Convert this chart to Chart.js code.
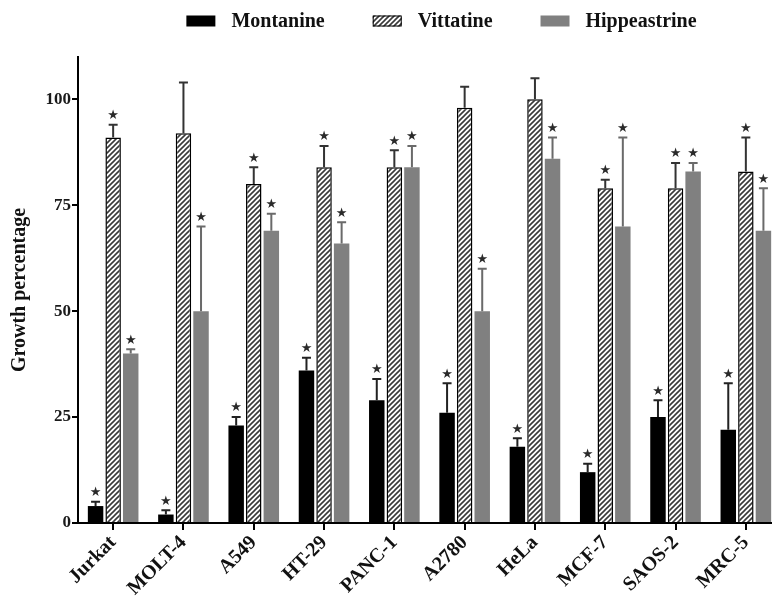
<!DOCTYPE html>
<html>
<head>
<meta charset="utf-8">
<script src="https://cdn.jsdelivr.net/npm/chart.js@4.4.0/dist/chart.umd.min.js"></script>
<style>
html, body { margin: 0; padding: 0; background: #fff; overflow: hidden; }
#wrap { width: 781px; height: 598px; }
</style>
</head>
<body>
<div id="wrap"><canvas id="chart"></canvas></div>
<script>
// cell lines on the x axis
const cellLines = ['Jurkat', 'MOLT-4', 'A549', 'HT-29', 'PANC-1', 'A2780', 'HeLa', 'MCF-7', 'SAOS-2', 'MRC-5'];

// growth percentage, upper error (SD) and significance marks per compound
const montanine = [4, 2, 23, 36, 29, 26, 18, 12, 25, 22];
const montanineErr = [1, 1, 2, 3, 5, 7, 2, 2, 4, 11];
const montanineStar = [1, 1, 1, 1, 1, 1, 1, 1, 1, 1];

const vittatine = [91, 92, 80, 84, 84, 98, 100, 79, 79, 83];
const vittatineErr = [3, 12, 4, 5, 4, 5, 5, 2, 6, 8];
const vittatineStar = [1, 0, 1, 1, 1, 0, 0, 1, 1, 1];

const hippeastrine = [40, 50, 69, 66, 84, 50, 86, 70, 83, 69];
const hippeastrineErr = [1, 20, 4, 5, 5, 10, 5, 21, 2, 10];
const hippeastrineStar = [1, 1, 1, 1, 1, 1, 1, 1, 1, 1];

const yTicks = [0, 25, 50, 75, 100];

const serif = '"Liberation Serif", "DejaVu Serif", serif';

// diagonal hatch used for vittatine
function makeHatch() {
    const size = 5;
    const c = document.createElement('canvas');
    c.width = size;
    c.height = size;
    const g = c.getContext('2d');
    g.fillStyle = '#fff';
    g.fillRect(0, 0, size, size);
    g.strokeStyle = '#3a3a3a';
    g.lineWidth = 1.6;
    g.beginPath();
    g.moveTo(-1, size + 1);
    g.lineTo(size + 1, -1);
    g.moveTo(-1, 1);
    g.lineTo(1, -1);
    g.moveTo(size - 1, size + 1);
    g.lineTo(size + 1, size - 1);
    g.stroke();
    return g.createPattern(c, 'repeat');
}
const hatch = makeHatch();

// error bars and asterisks, drawn through the chart scales
const errorBarPlugin = {
    id: 'errorBars',
    afterDatasetsDraw(chart) {
        const ctx = chart.ctx;
        const y = chart.scales.y;
        chart.data.datasets.forEach((ds, di) => {
            const meta = chart.getDatasetMeta(di);
            meta.data.forEach((bar, i) => {
                const top = y.getPixelForValue(ds.data[i]);
                const capY = y.getPixelForValue(ds.data[i] + ds.errors[i]);
                ctx.save();
                ctx.strokeStyle = ds.errorColor;
                ctx.lineWidth = 2;
                ctx.beginPath();
                ctx.moveTo(bar.x, top);
                ctx.lineTo(bar.x, capY);
                ctx.moveTo(bar.x - 4.5, capY);
                ctx.lineTo(bar.x + 4.5, capY);
                ctx.stroke();
                if (ds.stars[i]) {
                    ctx.fillStyle = '#2a2a2a';
                    ctx.font = '13px "DejaVu Sans"';
                    ctx.textAlign = 'center';
                    ctx.textBaseline = 'middle';
                    ctx.fillText('\u2605', bar.x, capY - 9);
                }
                ctx.restore();
            });
        });
    },
};

// legend drawn above the plot
const legendPlugin = {
    id: 'topLegend',
    afterDraw(chart) {
        const ctx = chart.ctx;
        const boxW = 29, boxH = 11, gap = 16, itemGap = 48;
        ctx.save();
        ctx.font = 'bold 20px ' + serif;
        const items = chart.data.datasets.map((ds) => ({
            ds,
            w: ctx.measureText(ds.label).width,
        }));
        const total = items.reduce((s, it) => s + boxW + gap + it.w, 0) + itemGap * (items.length - 1);
        let x = (chart.chartArea.left + chart.chartArea.right) / 2 - total / 2 + 12;
        const cy = 21;
        items.forEach((it) => {
            ctx.fillStyle = it.ds.backgroundColor;
            ctx.fillRect(x, cy - boxH / 2, boxW, boxH);
            if (it.ds.borderWidth) {
                ctx.strokeStyle = '#000';
                ctx.lineWidth = 1;
                ctx.strokeRect(x + 0.5, cy - boxH / 2 + 0.5, boxW - 1, boxH - 1);
            }
            ctx.fillStyle = '#111';
            ctx.textAlign = 'left';
            ctx.textBaseline = 'middle';
            ctx.fillText(it.ds.label, x + boxW + gap, cy + 1);
            x += boxW + gap + it.w + itemGap;
        });
        ctx.restore();
    },
};

const ctx = document.getElementById('chart').getContext('2d');
new Chart(ctx, {
    type: 'bar',
    data: {
        labels: cellLines,
        datasets: [
            {
                label: 'Montanine',
                data: montanine,
                errors: montanineErr,
                stars: montanineStar,
                errorColor: '#222',
                backgroundColor: '#000',
                borderWidth: 0,
            },
            {
                label: 'Vittatine',
                data: vittatine,
                errors: vittatineErr,
                stars: vittatineStar,
                errorColor: '#333',
                backgroundColor: hatch,
                borderColor: '#000',
                borderWidth: 1.5,
            },
            {
                label: 'Hippeastrine',
                data: hippeastrine,
                errors: hippeastrineErr,
                stars: hippeastrineStar,
                errorColor: '#6a6a6a',
                backgroundColor: '#808080',
                borderWidth: 0,
            },
        ],
    },
    options: {
        responsive: true,
        maintainAspectRatio: false,
        animation: false,
        layout: { padding: { top: 57, left: 0, right: 0, bottom: 0 } },
        datasets: {
            bar: { categoryPercentage: 0.75, barPercentage: 0.88 },
        },
        plugins: {
            legend: { display: false },
            tooltip: { enabled: false },
        },
        scales: {
            x: {
                afterFit: (scale) => { scale.height = 75; },
                grid: {
                    display: true,
                    offset: false,
                    drawOnChartArea: false,
                    drawTicks: true,
                    tickLength: 7,
                    color: '#000',
                    lineWidth: 2,
                },
                border: { display: true, color: '#000', width: 2 },
                ticks: {
                    color: '#111',
                    font: { family: serif, size: 20, weight: 'bold' },
                    minRotation: 45,
                    maxRotation: 45,
                    padding: 1,
                },
            },
            y: {
                min: 0,
                max: 110,
                afterFit: (scale) => { scale.width = 78; },
                afterBuildTicks: (scale) => {
                    scale.ticks = yTicks.map((v) => ({ value: v }));
                },
                grid: {
                    display: true,
                    drawOnChartArea: false,
                    drawTicks: true,
                    tickLength: 6,
                    color: '#000',
                    lineWidth: 2,
                },
                border: { display: true, color: '#000', width: 2 },
                ticks: {
                    color: '#1a1a1a',
                    font: { family: serif, size: 17, weight: 'bold' },
                    padding: 1,
                },
                title: {
                    display: true,
                    text: 'Growth percentage',
                    color: '#111',
                    font: { family: serif, size: 20, weight: 'bold' },
                    padding: { top: 8, bottom: 0 },
                },
            },
        },
    },
    plugins: [errorBarPlugin, legendPlugin],
});
</script>
</body>
</html>
